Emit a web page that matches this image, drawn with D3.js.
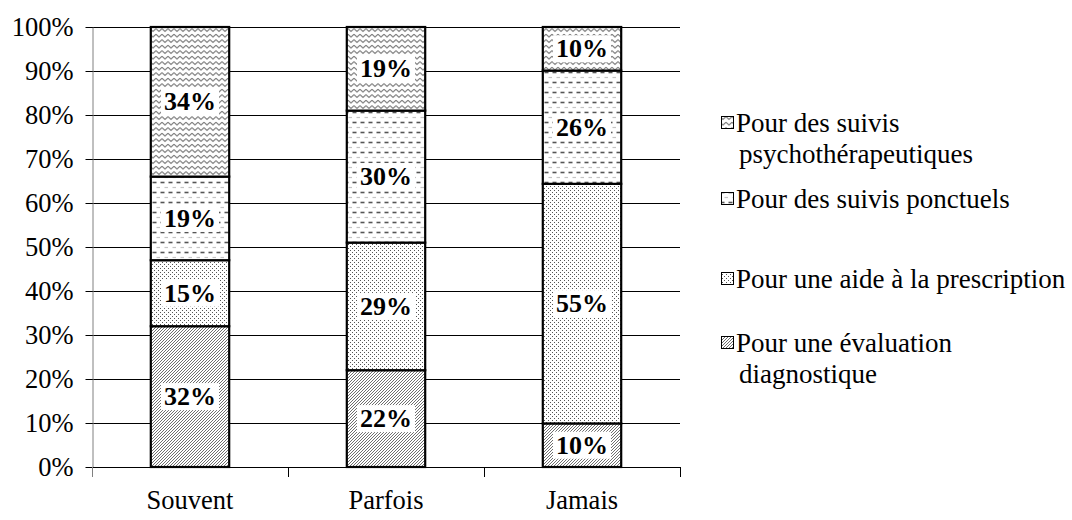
<!DOCTYPE html>
<html>
<head>
<meta charset="utf-8">
<script src="https://cdn.jsdelivr.net/npm/d3@7"></script>
<style>
  html, body { margin: 0; padding: 0; background: #fff; }
  svg { display: block; }
  text { font-family: "Liberation Serif", "Times New Roman", serif; fill: #000; }
</style>
</head>
<body>
<svg id="chart" width="1072" height="520"></svg>
<script>
// Frequency of use (categories) and the share of each reason
const categories = ["Souvent", "Parfois", "Jamais"];
const seriesNames = [
  "Pour une évaluation diagnostique",
  "Pour une aide à la prescription",
  "Pour des suivis ponctuels",
  "Pour des suivis psychothérapeutiques"
];
const evaluation   = [32, 22, 10];
const prescription = [15, 29, 55];
const ponctuels    = [19, 30, 26];
const psycho       = [34, 19, 10];
const yTickValues  = [0, 0.1, 0.2, 0.3, 0.4, 0.5, 0.6, 0.7, 0.8, 0.9, 1];

// Legend lines (top to bottom, as displayed)
const legendLines = [
  ["Pour des suivis", "psychothérapeutiques"],
  ["Pour des suivis ponctuels"],
  ["Pour une aide à la prescription"],
  ["Pour une évaluation", "diagnostique"]
];

const svg = d3.select("#chart");
const plotLeft = 92, plotRight = 680, plotTop = 27, plotBottom = 467;
const fontSize = 26.5;

// ---- fill patterns (opaque white ground + marks) ----
const defs = svg.append("defs");
function makePattern(id, w, h) {
  const p = defs.append("pattern").attr("id", id)
    .attr("patternUnits", "userSpaceOnUse").attr("width", w).attr("height", h);
  p.append("rect").attr("width", w).attr("height", h).attr("fill", "#fff");
  return p;
}
const patZig = makePattern("p-zig", 6, 5.5);
patZig.append("path").attr("d", "M0,1.2 L3,4 L6,1.2")
  .attr("fill", "none").attr("stroke", "#5a5a5a").attr("stroke-width", 1);

const patDash = makePattern("p-dash", 8, 10);
patDash.append("path").attr("d", "M0.5,2.5 H4.5").attr("stroke", "#555").attr("stroke-width", 1.6);
patDash.append("path").attr("d", "M4.5,7.5 H8").attr("stroke", "#c4c4c4").attr("stroke-width", 1.2);

const patDot = makePattern("p-dot", 4, 4);
patDot.append("rect").attr("x", 0).attr("y", 0).attr("width", 1).attr("height", 1).attr("fill", "#555");
patDot.append("rect").attr("x", 2).attr("y", 2).attr("width", 1).attr("height", 1).attr("fill", "#555");

const patHatch = makePattern("p-hatch", 3, 3);
patHatch.append("path").attr("d", "M-1,1 L1,-1 M0,3 L3,0 M2,4 L4,2")
  .attr("stroke", "#555").attr("stroke-width", 0.85);

const fills = ["url(#p-hatch)", "url(#p-dot)", "url(#p-dash)", "url(#p-zig)"];

// ---- data table and stacking ----
const table = categories.map((c, i) => ({
  cat: c,
  [seriesNames[0]]: evaluation[i],
  [seriesNames[1]]: prescription[i],
  [seriesNames[2]]: ponctuels[i],
  [seriesNames[3]]: psycho[i]
}));
const raw = {
  [seriesNames[0]]: evaluation,
  [seriesNames[1]]: prescription,
  [seriesNames[2]]: ponctuels,
  [seriesNames[3]]: psycho
};
const stacked = d3.stack().keys(seriesNames).offset(d3.stackOffsetExpand)(table);

// ---- scales ----
const x = d3.scaleBand().domain(categories).range([plotLeft, plotRight]).padding(0);
const y = d3.scaleLinear().domain([0, 1]).range([plotBottom, plotTop]);
const barW = x.bandwidth() * 0.4;

// ---- gridlines ----
svg.append("g").selectAll("line").data(yTickValues.slice(1)).join("line")
  .attr("x1", plotLeft).attr("x2", plotRight)
  .attr("y1", d => Math.round(y(d)) + 0.5).attr("y2", d => Math.round(y(d)) + 0.5)
  .attr("stroke", "#000").attr("stroke-width", 1);

// ---- y axis ----
const yAxis = svg.append("g").attr("transform", `translate(${plotLeft + 0.5},0)`)
  .call(d3.axisLeft(y).tickValues(yTickValues).tickFormat(d3.format(".0%")).tickSizeInner(7).tickSizeOuter(0).tickPadding(12));
yAxis.select(".domain").attr("stroke", "#808080");
yAxis.selectAll(".tick line").attr("stroke", "#000");
yAxis.selectAll(".tick text").attr("font-size", fontSize).attr("fill", "#000");

// ---- x axis ----
const xAxisG = svg.append("g");
xAxisG.append("line").attr("x1", plotLeft).attr("x2", plotRight)
  .attr("y1", plotBottom + 0.5).attr("y2", plotBottom + 0.5).attr("stroke", "#000");
const bounds = categories.map(c => x(c)).concat([x(categories[categories.length - 1]) + x.bandwidth()]);
xAxisG.selectAll("line.tk").data(bounds).join("line").attr("class", "tk")
  .attr("x1", d => Math.round(d) + 0.5).attr("x2", d => Math.round(d) + 0.5)
  .attr("y1", plotBottom).attr("y2", plotBottom + 10).attr("stroke", d => d === plotLeft ? "#808080" : "#000");
xAxisG.selectAll("text").data(categories).join("text")
  .attr("x", d => x(d) + x.bandwidth() / 2).attr("y", 509)
  .attr("text-anchor", "middle").attr("font-size", fontSize).text(d => d);

// ---- bars ----
const layers = svg.append("g").selectAll("g").data(stacked).join("g")
  .attr("fill", (d, i) => fills[i]);
layers.selectAll("rect").data(d => d).join("rect")
  .attr("x", d => x(d.data.cat) + (x.bandwidth() - barW) / 2)
  .attr("y", d => y(d[1]))
  .attr("width", barW)
  .attr("height", d => y(d[0]) - y(d[1]))
  .attr("stroke", "#000").attr("stroke-width", 2.2);

// ---- value labels ----
const labelG = svg.append("g");
stacked.forEach(layer => {
  layer.forEach((d, i) => {
    const cx = x(d.data.cat) + x.bandwidth() / 2;
    const cy = (y(d[0]) + y(d[1])) / 2;
    const txt = raw[layer.key][i] + "%";
    const g = labelG.append("g");
    const t = g.append("text").attr("x", cx).attr("y", cy)
      .attr("text-anchor", "middle").attr("dominant-baseline", "central")
      .attr("font-size", 26).attr("font-weight", "bold").text(txt);
    const bb = t.node().getBBox();
    g.insert("rect", "text").attr("x", bb.x - 3).attr("y", bb.y + 1)
      .attr("width", bb.width + 6).attr("height", bb.height - 2).attr("fill", "#fff");
  });
});

// ---- legend ----
const legendY = [123, 199, 279, 343];
const legendFill = [fills[3], fills[2], fills[1], fills[0]];
const legend = svg.append("g");
legendLines.forEach((lines, i) => {
  legend.append("rect").attr("x", 721.5).attr("y", legendY[i] - 6.5)
    .attr("width", 12).attr("height", 12)
    .attr("fill", legendFill[i]).attr("stroke", "#000").attr("stroke-width", 1);
  lines.forEach((ln, j) => {
    legend.append("text").attr("x", j === 0 ? 736 : 739).attr("y", legendY[i] + j * 31)
      .attr("dominant-baseline", "central").attr("font-size", 27).text(ln);
  });
});
</script>
</body>
</html>
